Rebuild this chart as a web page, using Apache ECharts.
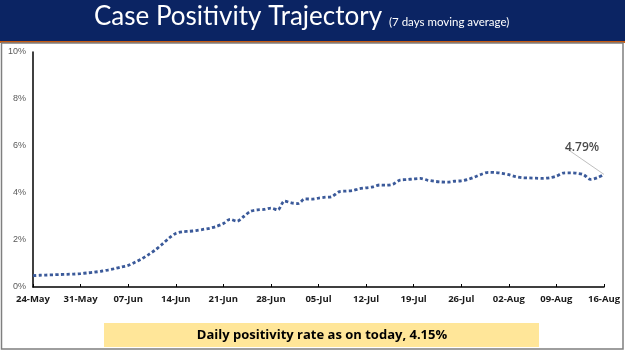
<!DOCTYPE html>
<html>
<head>
<meta charset="utf-8">
<script src="https://cdn.jsdelivr.net/npm/echarts@6/dist/echarts.min.js"></script>
<style>
html,body{margin:0;padding:0;background:#fff;}
#c{width:625px;height:351px;}
</style>
</head>
<body>
<div id="c"></div>
<script>
var dates = [
'24-May','25-May','26-May','27-May','28-May','29-May','30-May','31-May',
'01-Jun','02-Jun','03-Jun','04-Jun','05-Jun','06-Jun','07-Jun','08-Jun','09-Jun','10-Jun','11-Jun','12-Jun','13-Jun','14-Jun','15-Jun','16-Jun','17-Jun','18-Jun','19-Jun','20-Jun','21-Jun','22-Jun','23-Jun','24-Jun','25-Jun','26-Jun','27-Jun','28-Jun','29-Jun','30-Jun',
'01-Jul','02-Jul','03-Jul','04-Jul','05-Jul','06-Jul','07-Jul','08-Jul','09-Jul','10-Jul','11-Jul','12-Jul','13-Jul','14-Jul','15-Jul','16-Jul','17-Jul','18-Jul','19-Jul','20-Jul','21-Jul','22-Jul','23-Jul','24-Jul','25-Jul','26-Jul','27-Jul','28-Jul','29-Jul','30-Jul','31-Jul',
'01-Aug','02-Aug','03-Aug','04-Aug','05-Aug','06-Aug','07-Aug','08-Aug','09-Aug','10-Aug','11-Aug','12-Aug','13-Aug','14-Aug','15-Aug','16-Aug'
];
var positivity = [
0.48,0.50,0.51,0.52,0.53,0.54,0.55,0.57,0.60,0.63,0.67,0.72,0.78,0.85,0.92,1.05,1.20,1.38,1.58,1.82,2.08,2.28,2.35,2.37,2.40,2.45,2.50,2.58,
2.70,2.88,2.80,3.00,3.22,3.28,3.30,3.36,3.28,3.66,3.58,3.55,3.75,3.74,3.78,3.82,3.85,4.05,4.08,4.10,4.18,4.22,4.26,4.34,4.33,4.38,4.55,4.57,
4.60,4.62,4.55,4.50,4.47,4.46,4.50,4.52,4.58,4.68,4.80,4.88,4.87,4.84,4.78,4.70,4.65,4.64,4.63,4.62,4.65,4.72,4.85,4.86,4.84,4.78,4.58,4.65,4.79
];
var yTicks = [0,2,4,6,8,10];
var titleMain = 'Case Positivity Trajectory';
var titleSub = '(7 days moving average)';
var lastLabel = '4.79%';
var footerText = 'Daily positivity rate as on today, 4.15%';

var chart = echarts.init(document.getElementById('c'), null, {renderer:'canvas'});
var lastIdx = positivity.length - 1;
chart.setOption({
  backgroundColor:'#fff',
  animation:false,
  graphic:[
    {type:'rect', shape:{x:0,y:0,width:625,height:41}, style:{fill:'#0b2463'}, z:0},
    {type:'rect', shape:{x:0,y:41,width:625,height:2}, style:{fill:'#c55a11'}, z:0},
    {type:'rect', shape:{x:1.5,y:43,width:621.5,height:306}, style:{fill:'none', stroke:'#7f7f7f', lineWidth:1.5}, z:0},
    {type:'text', left:94, top:4, style:{text:titleMain, fill:'#fff', font:'26px Lato'}},
    {type:'text', left:389, top:16, style:{text:titleSub, fill:'#fff', font:'11.5px Lato'}},
    {type:'rect', shape:{x:104,y:323,width:435,height:24}, style:{fill:'#ffe699'}},
    {type:'text', x:322, y:335, style:{text:footerText, fill:'#000', font:'bold 13px "Open Sans"', textAlign:'center', textVerticalAlign:'middle'}}
  ],
  grid:{left:33, right:21, top:52, bottom:64},
  xAxis:{
    type:'category', data:dates, boundaryGap:false,
    axisLine:{lineStyle:{color:'#000', width:1.5}},
    axisTick:{interval:6, length:3, inside:true, lineStyle:{color:'#000'}},
    axisLabel:{interval:6, color:'#1a1a1a', fontSize:9.5, fontWeight:'bold', fontFamily:'Open Sans', margin:7, showMaxLabel:true}
  },
  yAxis:{
    type:'value', min:0, max:10, interval:2,
    axisLine:{show:true, lineStyle:{color:'#000', width:1.5}},
    axisTick:{show:false},
    splitLine:{show:false},
    axisLabel:{formatter:function(v){return yTicks.indexOf(v)>=0? v+'%':'';}, color:'#595959', fontSize:9, fontFamily:'Liberation Sans', margin:7}
  },
  series:[{
    type:'line', data:positivity, smooth:0.3, symbol:'none',
    lineStyle:{color:'#3b5a9a', width:2.8, type:[3.2,2.4]},
    z:3
  },{
    type:'scatter', symbolSize:0, itemStyle:{color:'#3b5a9a'},
    data:[[lastIdx, positivity[lastIdx]]],
    label:{show:true, formatter:lastLabel, position:'top', fontSize:12, fontWeight:600, color:'#1a1a1a', fontFamily:'Open Sans'},
    labelLayout:{dx:-22, dy:-16},
    labelLine:{show:true, lineStyle:{color:'#bfbfbf', width:1}},
    z:4
  }]
});
</script>
</body>
</html>
